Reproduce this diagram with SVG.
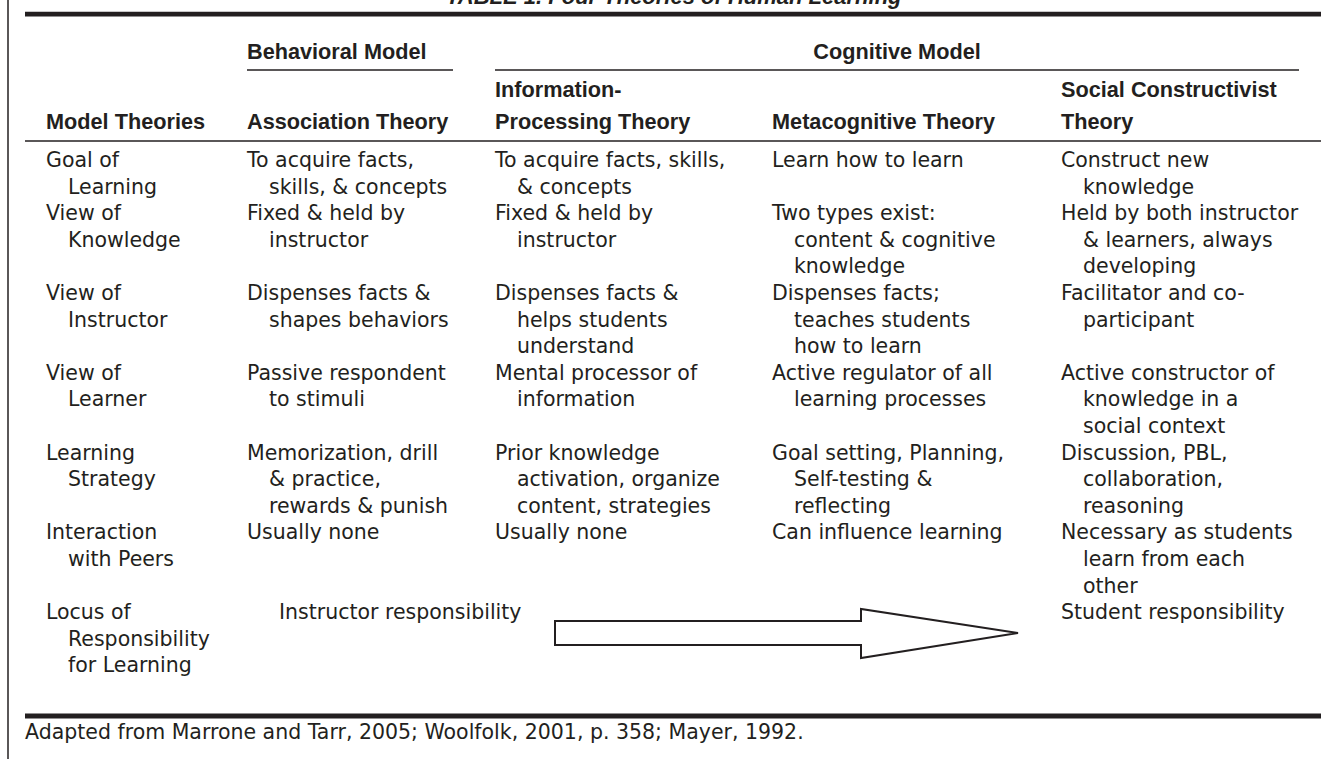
<svg xmlns="http://www.w3.org/2000/svg" width="1321" height="759" viewBox="0 0 1321 759">
<style>
text{fill:#231f20}
.b{font-family:"DejaVu Sans",sans-serif;font-size:20.5px}
.h{font-family:"Liberation Sans",Arial,sans-serif;font-size:21.7px;font-weight:bold}
.t{font-family:"Liberation Sans",Arial,sans-serif;font-size:22px;font-weight:bold;font-style:italic}
.thick{stroke:#231f20;stroke-width:4.8}
.thin{stroke:#231f20;stroke-width:1.5}
.arrow{fill:#fff;stroke:#231f20;stroke-width:2;stroke-linejoin:miter}
</style>
<rect width="1321" height="759" fill="#fff"/>
<g id="frame">
<line class="thin" x1="8" y1="0" x2="8" y2="759"/>
<line class="thick" x1="25" y1="14.2" x2="1321" y2="14.2"/>
<line class="thin" x1="247" y1="70" x2="453" y2="70"/>
<line class="thin" x1="495" y1="70" x2="1299" y2="70"/>
<line class="thin" x1="25" y1="141" x2="1321" y2="141"/>
<line class="thick" x1="25" y1="716" x2="1321" y2="716"/>
</g>
<g id="title"><text class="t" x="446" y="3.5">TABLE 1. Four Theories of Human Learning</text></g>
<g id="headers">
<text class="h" x="247" y="59">Behavioral Model</text>
<text class="h" x="897" y="59" text-anchor="middle">Cognitive Model</text>
<text class="h" x="495" y="97">Information-</text>
<text class="h" x="1061" y="97">Social Constructivist</text>
<text class="h" x="46" y="129">Model Theories</text>
<text class="h" x="247" y="129">Association Theory</text>
<text class="h" x="495" y="129">Processing Theory</text>
<text class="h" x="772" y="129">Metacognitive Theory</text>
<text class="h" x="1061" y="129">Theory</text>
</g>
<g id="col-labels">
<text class="b" x="46" y="167">Goal of</text><text class="b" x="68" y="193.6">Learning</text>
<text class="b" x="46" y="220.2">View of</text><text class="b" x="68" y="246.8">Knowledge</text>
<text class="b" x="46" y="300">View of</text><text class="b" x="68" y="326.6">Instructor</text>
<text class="b" x="46" y="379.8">View of</text><text class="b" x="68" y="406.4">Learner</text>
<text class="b" x="46" y="459.6">Learning</text><text class="b" x="68" y="486.2">Strategy</text>
<text class="b" x="46" y="539.4">Interaction</text><text class="b" x="68" y="566">with Peers</text>
<text class="b" x="46" y="619.2">Locus of</text><text class="b" x="68" y="645.8">Responsibility</text><text class="b" x="68" y="672.4">for Learning</text>
</g>
<g id="col-association">
<text class="b" x="247" y="167">To acquire facts,</text><text class="b" x="269" y="193.6">skills, &amp; concepts</text>
<text class="b" x="247" y="220.2">Fixed &amp; held by</text><text class="b" x="269" y="246.8">instructor</text>
<text class="b" x="247" y="300">Dispenses facts &amp;</text><text class="b" x="269" y="326.6">shapes behaviors</text>
<text class="b" x="247" y="379.8">Passive respondent</text><text class="b" x="269" y="406.4">to stimuli</text>
<text class="b" x="247" y="459.6">Memorization, drill</text><text class="b" x="269" y="486.2">&amp; practice,</text><text class="b" x="269" y="512.8">rewards &amp; punish</text>
<text class="b" x="247" y="539.4">Usually none</text>
<text class="b" x="279" y="619.2">Instructor responsibility</text>
</g>
<g id="col-information">
<text class="b" x="495" y="167">To acquire facts, skills,</text><text class="b" x="517" y="193.6">&amp; concepts</text>
<text class="b" x="495" y="220.2">Fixed &amp; held by</text><text class="b" x="517" y="246.8">instructor</text>
<text class="b" x="495" y="300">Dispenses facts &amp;</text><text class="b" x="517" y="326.6">helps students</text><text class="b" x="517" y="353.2">understand</text>
<text class="b" x="495" y="379.8">Mental processor of</text><text class="b" x="517" y="406.4">information</text>
<text class="b" x="495" y="459.6">Prior knowledge</text><text class="b" x="517" y="486.2">activation, organize</text><text class="b" x="517" y="512.8">content, strategies</text>
<text class="b" x="495" y="539.4">Usually none</text>
</g>
<g id="col-metacognitive">
<text class="b" x="772" y="167">Learn how to learn</text>
<text class="b" x="772" y="220.2">Two types exist:</text><text class="b" x="794" y="246.8">content &amp; cognitive</text><text class="b" x="794" y="273.4">knowledge</text>
<text class="b" x="772" y="300">Dispenses facts;</text><text class="b" x="794" y="326.6">teaches students</text><text class="b" x="794" y="353.2">how to learn</text>
<text class="b" x="772" y="379.8">Active regulator of all</text><text class="b" x="794" y="406.4">learning processes</text>
<text class="b" x="772" y="459.6">Goal setting, Planning,</text><text class="b" x="794" y="486.2">Self-testing &amp;</text><text class="b" x="794" y="512.8">reflecting</text>
<text class="b" x="772" y="539.4">Can influence learning</text>
</g>
<g id="col-social">
<text class="b" x="1061" y="167">Construct new</text><text class="b" x="1083" y="193.6">knowledge</text>
<text class="b" x="1061" y="220.2">Held by both instructor</text><text class="b" x="1083" y="246.8">&amp; learners, always</text><text class="b" x="1083" y="273.4">developing</text>
<text class="b" x="1061" y="300">Facilitator and co-</text><text class="b" x="1083" y="326.6">participant</text>
<text class="b" x="1061" y="379.8">Active constructor of</text><text class="b" x="1083" y="406.4">knowledge in a</text><text class="b" x="1083" y="433">social context</text>
<text class="b" x="1061" y="459.6">Discussion, PBL,</text><text class="b" x="1083" y="486.2">collaboration,</text><text class="b" x="1083" y="512.8">reasoning</text>
<text class="b" x="1061" y="539.4">Necessary as students</text><text class="b" x="1083" y="566">learn from each</text><text class="b" x="1083" y="592.6">other</text>
<text class="b" x="1061" y="619.2">Student responsibility</text>
</g>
<g id="connectors">
<polygon class="arrow" points="555,621 861,621 861,609 1018,633 861,658 861,645 555,645"/>
</g>
<g id="footnote"><text class="b" x="25" y="739">Adapted from Marrone and Tarr, 2005; Woolfolk, 2001, p. 358; Mayer, 1992.</text></g>
</svg>
